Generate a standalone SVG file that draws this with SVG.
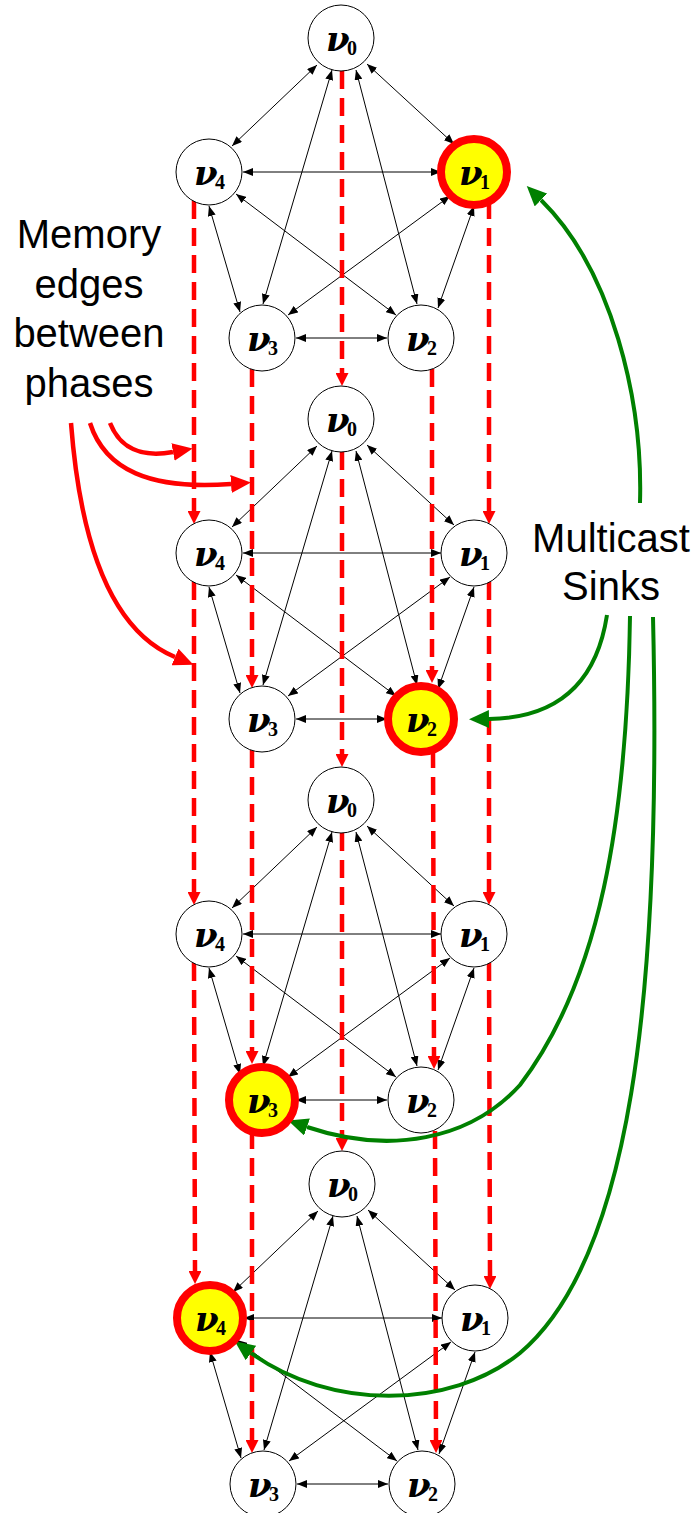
<svg xmlns="http://www.w3.org/2000/svg" xmlns:xlink="http://www.w3.org/1999/xlink" width="699" height="1513" viewBox="0 0 699 1513">
  <style>
    .e { stroke: #000; stroke-width: 1; fill: none; marker-start: url(#ah); marker-end: url(#ah); }
    .mem { stroke: #ff0000; stroke-width: 4.5; stroke-dasharray: 18 9; fill: none; marker-end: url(#rh); }
    .redc { stroke: #ff0000; stroke-width: 4.5; fill: none; marker-end: url(#rc); }
    .grn { stroke: #008000; stroke-width: 4; fill: none; marker-end: url(#gh); }
    .nd { fill: #fff; stroke: #000; stroke-width: 1; }
    .sink { fill: #ffff00; stroke: #ff0000; stroke-width: 8; }
    .nu { font-family: "DejaVu Serif", "Liberation Serif", serif; font-style: italic; font-weight: bold; font-size: 34px; fill: #000; }
    .sub { font-family: "Liberation Serif", "DejaVu Serif", serif; font-weight: bold; font-size: 20px; fill: #000; }
    .cap { font-family: "Liberation Sans", Arial, sans-serif; font-size: 40px; fill: #000; text-anchor: middle; }
  </style>
  <defs>
    <marker id="ah" viewBox="0 0 10 8" refX="10" refY="4" markerWidth="10" markerHeight="8" markerUnits="userSpaceOnUse" orient="auto-start-reverse">
      <path d="M0,0 L10,4 L0,8 z" fill="#000"/>
    </marker>
    <marker id="rh" viewBox="0 0 13 13" refX="0" refY="6.5" markerWidth="13" markerHeight="13" markerUnits="userSpaceOnUse" orient="auto">
      <path d="M0,0 L13,6.5 L0,13 z" fill="#ff0000"/>
    </marker>
    <marker id="rc" viewBox="0 0 20 18" refX="0" refY="9" markerWidth="20" markerHeight="18" markerUnits="userSpaceOnUse" orient="auto">
      <path d="M0,0 L20,9 L0,18 z" fill="#ff0000"/>
    </marker>
    <marker id="gh" viewBox="0 0 20 18" refX="0" refY="9" markerWidth="20" markerHeight="18" markerUnits="userSpaceOnUse" orient="auto">
      <path d="M0,0 L20,9 L0,18 z" fill="#008000"/>
    </marker>
    <!-- complete graph on five nodes, one phase, drawn at phase-1 coordinates -->
    <g id="k5">
      <line class="e" x1="317" y1="65" x2="232" y2="146"/>
      <line class="e" x1="367" y1="64" x2="454" y2="144"/>
      <line class="e" x1="332" y1="70" x2="263" y2="304"/>
      <line class="e" x1="356" y1="70" x2="417" y2="304"/>
      <line class="e" x1="243" y1="172" x2="441" y2="172"/>
      <line class="e" x1="209" y1="206" x2="240" y2="312"/>
      <line class="e" x1="236" y1="194" x2="396" y2="315"/>
      <line class="e" x1="450" y1="196" x2="288" y2="315"/>
      <line class="e" x1="474" y1="206" x2="438" y2="308"/>
      <line class="e" x1="296" y1="338" x2="387" y2="338"/>
    </g>
  </defs>

  <rect width="699" height="1513" fill="#fff"/>

  <g id="connectors">
    <!-- intra-phase edges -->
    <use xlink:href="#k5"/>
    <use xlink:href="#k5" transform="translate(0,381)"/>
    <use xlink:href="#k5" transform="translate(0,762)"/>
    <use xlink:href="#k5" transform="translate(1,1146)"/>

    <!-- memory edges between phases -->
    <line class="mem" x1="342" y1="71" x2="342" y2="373"/>
    <line class="mem" x1="342" y1="452" x2="342" y2="754"/>
    <line class="mem" x1="342" y1="833" x2="342" y2="1138"/>

    <line class="mem" x1="194" y1="201" x2="194" y2="511"/>
    <line class="mem" x1="194" y1="582" x2="194" y2="892"/>
    <line class="mem" x1="194" y1="963" x2="195" y2="1271"/>

    <line class="mem" x1="489" y1="201" x2="489" y2="511"/>
    <line class="mem" x1="489" y1="582" x2="489" y2="892"/>
    <line class="mem" x1="489" y1="963" x2="490" y2="1276"/>

    <line class="mem" x1="252" y1="369" x2="252" y2="675"/>
    <line class="mem" x1="252" y1="750" x2="252" y2="1051"/>
    <line class="mem" x1="252" y1="1131" x2="252" y2="1440"/>

    <line class="mem" x1="432" y1="369" x2="432" y2="670"/>
    <line class="mem" x1="433" y1="750" x2="434" y2="1056"/>
    <line class="mem" x1="435" y1="1131" x2="436" y2="1440"/>

    <!-- callout arrows -->
    <path class="redc" d="M110,423 C120,448 140,458 173,452"/>
    <path class="redc" d="M90,423 C105,470 150,490 231,484"/>
    <path class="redc" d="M71,423 C80,540 110,630 175,657"/>

    <path class="grn" d="M640,503 C643,400 612,270 541,200"/>
    <path class="grn" d="M607,615 C597,680 560,718 489,719"/>
    <path class="grn" d="M630,616 C627,820 600,980 520,1085 C470,1140 390,1155 307,1127"/>
    <path class="grn" d="M653,617 C662,1000 630,1260 520,1353 C450,1410 330,1410 251,1353"/>
  </g>

  <!-- phase 1 -->
  <g id="p1-v0"><circle class="nd" cx="341" cy="38" r="33"/><text class="nu" x="326" y="51">ν</text><text class="sub" x="347" y="55">0</text></g>
  <g id="p1-v4"><circle class="nd" cx="209" cy="172" r="33"/><text class="nu" x="194" y="185">ν</text><text class="sub" x="215" y="189">4</text></g>
  <g id="p1-v1"><circle class="sink" cx="474" cy="172" r="33"/><text class="nu" x="459" y="185">ν</text><text class="sub" x="480" y="189">1</text></g>
  <g id="p1-v3"><circle class="nd" cx="262" cy="338" r="33"/><text class="nu" x="247" y="351">ν</text><text class="sub" x="268" y="355">3</text></g>
  <g id="p1-v2"><circle class="nd" cx="421" cy="338" r="33"/><text class="nu" x="406" y="351">ν</text><text class="sub" x="427" y="355">2</text></g>

  <!-- phase 2 -->
  <g id="p2-v0"><circle class="nd" cx="341" cy="419" r="33"/><text class="nu" x="326" y="432">ν</text><text class="sub" x="347" y="436">0</text></g>
  <g id="p2-v4"><circle class="nd" cx="209" cy="553" r="33"/><text class="nu" x="194" y="566">ν</text><text class="sub" x="215" y="570">4</text></g>
  <g id="p2-v1"><circle class="nd" cx="474" cy="553" r="33"/><text class="nu" x="459" y="566">ν</text><text class="sub" x="480" y="570">1</text></g>
  <g id="p2-v3"><circle class="nd" cx="262" cy="719" r="33"/><text class="nu" x="247" y="732">ν</text><text class="sub" x="268" y="736">3</text></g>
  <g id="p2-v2"><circle class="sink" cx="421" cy="719" r="33"/><text class="nu" x="406" y="732">ν</text><text class="sub" x="427" y="736">2</text></g>

  <!-- phase 3 -->
  <g id="p3-v0"><circle class="nd" cx="341" cy="800" r="33"/><text class="nu" x="326" y="813">ν</text><text class="sub" x="347" y="817">0</text></g>
  <g id="p3-v4"><circle class="nd" cx="209" cy="934" r="33"/><text class="nu" x="194" y="947">ν</text><text class="sub" x="215" y="951">4</text></g>
  <g id="p3-v1"><circle class="nd" cx="474" cy="934" r="33"/><text class="nu" x="459" y="947">ν</text><text class="sub" x="480" y="951">1</text></g>
  <g id="p3-v3"><circle class="sink" cx="262" cy="1100" r="33"/><text class="nu" x="247" y="1113">ν</text><text class="sub" x="268" y="1117">3</text></g>
  <g id="p3-v2"><circle class="nd" cx="421" cy="1100" r="33"/><text class="nu" x="406" y="1113">ν</text><text class="sub" x="427" y="1117">2</text></g>

  <!-- phase 4 -->
  <g id="p4-v0"><circle class="nd" cx="342" cy="1184" r="33"/><text class="nu" x="327" y="1197">ν</text><text class="sub" x="348" y="1201">0</text></g>
  <g id="p4-v4"><circle class="sink" cx="210" cy="1318" r="33"/><text class="nu" x="195" y="1331">ν</text><text class="sub" x="216" y="1335">4</text></g>
  <g id="p4-v1"><circle class="nd" cx="475" cy="1318" r="33"/><text class="nu" x="460" y="1331">ν</text><text class="sub" x="481" y="1335">1</text></g>
  <g id="p4-v3"><circle class="nd" cx="263" cy="1484" r="33"/><text class="nu" x="248" y="1497">ν</text><text class="sub" x="269" y="1501">3</text></g>
  <g id="p4-v2"><circle class="nd" cx="422" cy="1484" r="33"/><text class="nu" x="407" y="1497">ν</text><text class="sub" x="428" y="1501">2</text></g>

  <!-- captions -->
  <g id="label-memory">
    <text class="cap" x="89" y="248">Memory</text>
    <text class="cap" x="89" y="298">edges</text>
    <text class="cap" x="89" y="347">between</text>
    <text class="cap" x="89" y="397">phases</text>
  </g>
  <g id="label-sinks">
    <text class="cap" x="611" y="552">Multicast</text>
    <text class="cap" x="611" y="600">Sinks</text>
  </g>
</svg>
